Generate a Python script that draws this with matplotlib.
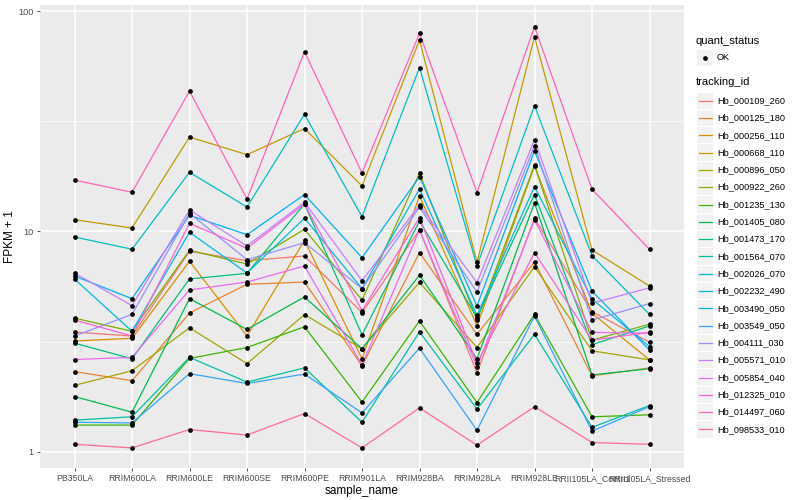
import matplotlib
matplotlib.use('Agg')
import matplotlib.pyplot as plt
from matplotlib.patches import Rectangle
from matplotlib.lines import Line2D
from matplotlib.ticker import FixedLocator, NullFormatter

plt.rcParams['font.family'] = ['Liberation Sans Narrow', 'Liberation Sans', 'DejaVu Sans']

# samples on the x axis
samples = ['PB350LA', 'RRIM600LA', 'RRIM600LE', 'RRIM600SE', 'RRIM600PE', 'RRIM901LA',
           'RRIM928BA', 'RRIM928LA', 'RRIM928LE', 'RRII105LA_Control', 'RRII105LA_Stressed']

tracking_ids = ['Hb_000109_260', 'Hb_000125_180', 'Hb_000256_110', 'Hb_000668_110',
                'Hb_000896_050', 'Hb_000922_260', 'Hb_001235_130', 'Hb_001405_080',
                'Hb_001473_170', 'Hb_001564_070', 'Hb_002026_070', 'Hb_002232_490',
                'Hb_003490_050', 'Hb_003549_050', 'Hb_004111_030', 'Hb_005571_010',
                'Hb_005854_040', 'Hb_012325_010', 'Hb_014497_060', 'Hb_098533_010']

# ggplot default hue palette for 20 groups
colors = ['#F8766D', '#EA8331', '#D89000', '#C09B00', '#A3A500', '#7CAE00', '#39B600',
          '#00BB4E', '#00BF7D', '#00C1A3', '#00BFC4', '#00BAE0', '#00B0F6', '#35A2FF',
          '#9590FF', '#C77CFF', '#E76BF3', '#FA62DB', '#FF62BC', '#FF6C91']

# FPKM + 1 values (one list per gene, in sample order)
hb_000109_260 = [3.49, 3.35, 8.12, 7.36, 7.73, 4.28, 10.15, 2.28, 11.47, 4.32, 3.14]
hb_000125_180 = [2.31, 2.10, 4.26, 5.75, 5.89, 2.45, 8.01, 3.41, 7.26, 2.21, 2.40]
hb_000256_110 = [3.18, 3.27, 7.32, 3.35, 9.11, 2.64, 14.48, 3.73, 19.8, 4.25, 2.61]
hb_000668_110 = [11.3, 10.36, 26.8, 22.3, 29.3, 16.08, 73.9, 7.24, 76.5, 8.23, 5.65]
hb_000896_050 = [2.00, 2.33, 3.65, 2.51, 4.19, 2.93, 5.87, 2.97, 6.92, 2.87, 2.61]
hb_000922_260 = [4.04, 3.52, 8.21, 7.11, 10.22, 4.88, 18.41, 3.96, 20.0, 3.21, 3.79]
hb_001235_130 = [1.32, 1.32, 2.65, 2.97, 3.69, 1.68, 3.92, 1.67, 4.20, 1.44, 1.47]
hb_001405_080 = [1.78, 1.51, 4.95, 3.59, 5.04, 2.93, 6.34, 2.64, 13.50, 2.23, 2.38]
hb_001473_170 = [3.11, 2.64, 6.08, 6.45, 13.32, 3.39, 11.15, 4.06, 14.68, 3.06, 3.72]
hb_001564_070 = [1.39, 1.44, 2.68, 2.07, 2.40, 1.36, 3.50, 1.56, 3.41, 1.29, 1.62]
hb_002026_070 = [9.43, 8.30, 18.55, 12.90, 34.0, 11.66, 55.4, 6.97, 37.2, 7.76, 4.20]
hb_002232_490 = [6.08, 3.52, 9.91, 6.47, 11.47, 5.50, 15.57, 4.17, 15.96, 4.93, 3.00]
hb_003490_050 = [6.27, 4.95, 11.83, 9.66, 14.68, 7.60, 17.71, 4.58, 23.2, 5.36, 2.89]
hb_003549_050 = [1.36, 1.35, 2.26, 2.04, 2.25, 1.50, 2.95, 1.25, 4.13, 1.24, 1.60]
hb_004111_030 = [3.35, 4.20, 12.08, 7.44, 8.89, 5.50, 12.86, 5.31, 24.5, 3.96, 4.70]
hb_005571_010 = [6.47, 4.60, 12.51, 8.59, 13.56, 5.97, 13.18, 5.85, 26.1, 4.72, 5.54]
hb_005854_040 = [2.62, 2.68, 5.42, 5.89, 6.96, 2.48, 10.15, 2.43, 11.27, 3.48, 3.45]
hb_012325_010 = [3.96, 3.35, 10.88, 8.38, 13.32, 4.37, 11.54, 2.52, 8.01, 3.21, 3.48]
hb_014497_060 = [17.1, 15.05, 43.3, 14.03, 65.4, 18.41, 79.3, 14.99, 85.0, 15.53, 8.29]
hb_098533_010 = [1.08, 1.04, 1.26, 1.19, 1.49, 1.04, 1.58, 1.07, 1.60, 1.10, 1.08]

series = [hb_000109_260, hb_000125_180, hb_000256_110, hb_000668_110, hb_000896_050,
          hb_000922_260, hb_001235_130, hb_001405_080, hb_001473_170, hb_001564_070,
          hb_002026_070, hb_002232_490, hb_003490_050, hb_003549_050, hb_004111_030,
          hb_005571_010, hb_005854_040, hb_012325_010, hb_014497_060, hb_098533_010]

W, H = 800, 500
fig = plt.figure(figsize=(8, 5), dpi=100)
ax = fig.add_axes([40 / W, 32 / H, 644 / W, 463 / H])
ax.set_facecolor('#EBEBEB')
for s in ax.spines.values():
    s.set_visible(False)

x = list(range(len(samples)))

# lines first, then the points on top
for vals, col in zip(series, colors):
    ax.plot(x, vals, color=col, lw=0.9, zorder=3)
for vals in series:
    ax.plot(x, vals, ls='none', marker='o', ms=2.4, color='black', zorder=4)

ax.set_yscale('log')
ax.set_ylim(0.843, 106.6)
ax.set_xlim(-0.6, 10.6)

ax.set_xticks(x)
ax.set_xticklabels(samples, fontsize=6.3, color='#4D4D4D')
ax.set_yticks([1, 10, 100])
ax.set_yticklabels(['1', '10', '100'], fontsize=6.6, color='#4D4D4D')
ax.yaxis.set_minor_locator(FixedLocator([10 ** 0.5, 10 ** 1.5]))
ax.yaxis.set_minor_formatter(NullFormatter())
ax.tick_params(axis='both', which='major', length=2.5, width=0.6, color='#333333', pad=2)
ax.tick_params(axis='y', which='minor', length=0)

ax.grid(True, which='major', color='white', lw=1.1, zorder=0)
ax.grid(True, which='minor', axis='y', color='white', lw=0.5, zorder=0)
ax.set_axisbelow(True)

ax.set_xlabel('sample_name', fontsize=8.5, labelpad=1)
ax.set_ylabel('FPKM + 1', fontsize=8.5, labelpad=2)


# legend drawn in pixel positions
def fx(px):
    return px / W


def fy(py):
    return 1 - py / H


fig.text(fx(696), fy(41), 'quant_status', fontsize=8, va='center', ha='left')
fig.patches.append(Rectangle((fx(697), fy(66)), 16 / W, 16 / H, transform=fig.transFigure,
                             facecolor='#F2F2F2', edgecolor='none'))
fig.lines.append(Line2D([fx(705)], [fy(58)], transform=fig.transFigure, marker='o',
                        ms=2.4, color='black', ls='none'))
fig.text(fx(717), fy(58), 'OK', fontsize=6.6, va='center', ha='left')

fig.text(fx(696), fy(82), 'tracking_id', fontsize=8, va='center', ha='left')
for i, (tid, col) in enumerate(zip(tracking_ids, colors)):
    cy = 100.7 + 17.3 * i
    fig.patches.append(Rectangle((fx(697), fy(cy + 8.2)), 16 / W, 16.4 / H,
                                 transform=fig.transFigure, facecolor='#F2F2F2',
                                 edgecolor='none'))
    fig.lines.append(Line2D([fx(698.5), fx(711.5)], [fy(cy), fy(cy)],
                            transform=fig.transFigure, color=col, lw=0.9))
    fig.text(fx(717), fy(cy), tid, fontsize=6.6, va='center', ha='left')

fig.savefig('out.png', dpi=100)
